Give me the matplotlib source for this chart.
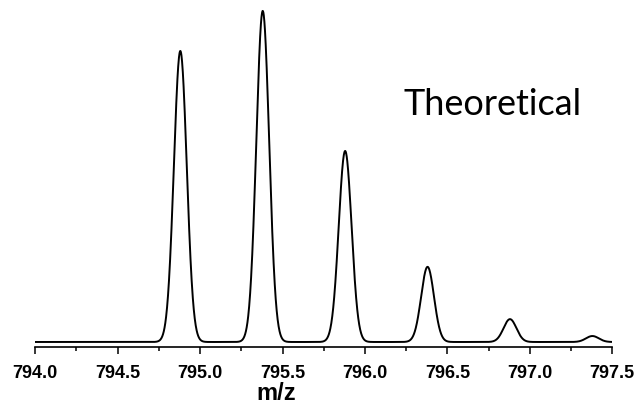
import numpy as np
import matplotlib.pyplot as plt
from matplotlib.ticker import MultipleLocator

# isotope peaks (m/z) and relative intensities
peak_mz = [794.88, 795.38, 795.88, 796.38, 796.88, 797.38]
peak_int = [87.9, 100.0, 57.7, 22.7, 6.9, 1.8]
peak_sigma = 0.039  # gaussian width of each peak

mz = np.linspace(794.0, 797.5, 3000)
signal = np.zeros_like(mz)
for m, h in zip(peak_mz, peak_int):
    signal += h * np.exp(-0.5 * ((mz - m) / peak_sigma) ** 2)

fig = plt.figure(figsize=(6.39, 4.06), dpi=100)
ax = fig.add_axes([0.0552, 0.1429, 0.9028, 0.8571])
ax.plot(mz, signal, color="black", lw=1.4)

ax.set_xlim(794.0, 797.5)
ax.set_ylim(-1.51, 103.6)
ax.set_yticks([])
for s in ["left", "right", "top"]:
    ax.spines[s].set_visible(False)
ax.spines["bottom"].set_linewidth(1.2)

ax.xaxis.set_major_locator(MultipleLocator(0.5))
ax.xaxis.set_minor_locator(MultipleLocator(0.25))
ax.xaxis.set_major_formatter(lambda v, p: f"{v:.1f}")
ax.tick_params(axis="x", which="major", direction="out", length=5, width=1.1, pad=7.5)
ax.tick_params(axis="x", which="minor", direction="out", length=3, width=1.1)
for lab in ax.get_xticklabels():
    lab.set_fontfamily("Liberation Sans")
    lab.set_fontweight("bold")
    lab.set_fontsize(13)

# axis title sits left of centre in the original
fig.text(276 / 639, 0.0148, "m/z", ha="center", va="baseline",
         fontfamily="Liberation Sans", fontweight="bold", fontsize=17)

ax.text(0.792, 0.6695, "Theoretical", transform=ax.transAxes, ha="center", va="baseline",
        fontfamily="Lato", fontsize=26)

fig.savefig("out.png", dpi=100)
